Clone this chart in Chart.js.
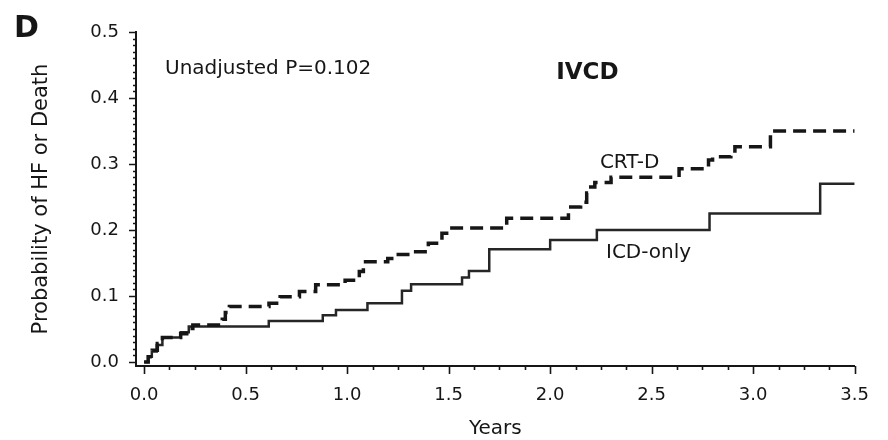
<!DOCTYPE html>
<html>
<head>
<meta charset="utf-8">
<title>IVCD – HF or Death</title>
<script src="https://cdn.jsdelivr.net/npm/chart.js@4/dist/chart.umd.min.js"></script>
<style>
  html, body { margin: 0; padding: 0; background: #ffffff; }
  #wrap { width: 888px; height: 440px; position: relative; }
</style>
</head>
<body>
<div id="wrap"><canvas id="km" width="888" height="440"></canvas></div>
<script>
// Kaplan-Meier cumulative probability of HF or death, IVCD subgroup
// Each pair (year, probability) marks the level reached at that event time.
const icdYears = [0, 0.02, 0.038, 0.062, 0.09, 0.18, 0.22, 0.614, 0.88, 0.945, 1.10, 1.27, 1.315, 1.566, 1.60, 1.70, 2.00, 2.23, 2.785, 3.33, 3.5];
const icdProb  = [0, 0.008, 0.016, 0.026, 0.037, 0.045, 0.054, 0.062, 0.071, 0.079, 0.089, 0.108, 0.118, 0.128, 0.138, 0.171, 0.185, 0.200, 0.225, 0.270, 0.270];

const crtYears = [0, 0.02, 0.04, 0.065, 0.09, 0.18, 0.21, 0.24, 0.385, 0.40, 0.42, 0.615, 0.67, 0.765, 0.845, 0.99, 1.06, 1.08, 1.20, 1.24, 1.32, 1.40, 1.467, 1.50, 1.786, 2.09, 2.15, 2.18, 2.20, 2.22, 2.30, 2.635, 2.78, 2.80, 2.89, 2.91, 3.085, 3.5];
const crtProb  = [0, 0.008, 0.018, 0.028, 0.037, 0.043, 0.051, 0.056, 0.065, 0.075, 0.084, 0.089, 0.099, 0.107, 0.117, 0.124, 0.137, 0.152, 0.157, 0.163, 0.167, 0.180, 0.195, 0.203, 0.218, 0.235, 0.242, 0.256, 0.265, 0.272, 0.280, 0.293, 0.306, 0.311, 0.316, 0.326, 0.350, 0.350];

// Axis tick labels
const xTickValues = [0, 0.5, 1.0, 1.5, 2.0, 2.5, 3.0, 3.5];
const yTickValues = [0, 0.1, 0.2, 0.3, 0.4, 0.5];

const toPoints = (xs, ys) => xs.map((x, i) => ({ x: x, y: ys[i] }));

const INK = '#161616';
const FONT = "'DejaVu Sans', Verdana, sans-serif";

// Major and minor tick marks drawn along both axes
const tickMarks = {
  id: 'tickMarks',
  afterDraw(chart) {
    const { ctx, scales: { x, y }, chartArea } = chart;
    ctx.save();
    ctx.strokeStyle = INK;
    ctx.lineWidth = 1.6;
    ctx.beginPath();
    for (let i = 0; i <= 28; i++) {
      const v = i * 0.125;
      const px = Math.round(x.getPixelForValue(v)) + 0.5;
      const len = (i % 4 === 0) ? 8 : 4;
      ctx.moveTo(px, chartArea.bottom);
      ctx.lineTo(px, chartArea.bottom + len);
    }
    for (let i = 0; i <= 50; i++) {
      const v = i * 0.01;
      const py = Math.round(y.getPixelForValue(v)) + 0.5;
      const len = (i % 10 === 0) ? 7 : 3;
      ctx.moveTo(chartArea.left, py);
      ctx.lineTo(chartArea.left - len, py);
    }
    ctx.stroke();
    ctx.restore();
  }
};

// Panel letter, p-value, subgroup name and curve labels
const annotations = {
  id: 'annotations',
  afterDraw(chart) {
    const { ctx, scales: { x, y } } = chart;
    ctx.save();
    ctx.fillStyle = INK;
    ctx.textBaseline = 'alphabetic';
    ctx.textAlign = 'left';

    ctx.font = "bold 30px " + FONT;
    ctx.fillText('D', 14, 37);

    ctx.font = "20px " + FONT;
    ctx.fillText('Unadjusted P=0.102', x.getPixelForValue(0.103), y.getPixelForValue(0.436));

    ctx.font = "bold 23px " + FONT;
    ctx.fillText('IVCD', x.getPixelForValue(2.03), y.getPixelForValue(0.429));

    ctx.font = "20px " + FONT;
    ctx.fillText('CRT-D', x.getPixelForValue(2.245), y.getPixelForValue(0.294));
    ctx.fillText('ICD-only', x.getPixelForValue(2.275), y.getPixelForValue(0.158));
    ctx.restore();
  }
};

new Chart(document.getElementById('km'), {
  type: 'line',
  data: {
    datasets: [
      {
        label: 'CRT-D',
        data: toPoints(crtYears, crtProb),
        borderColor: INK,
        borderWidth: 3.5,
        borderDash: [13, 7],
        stepped: 'before',
        pointRadius: 0,
        fill: false
      },
      {
        label: 'ICD-only',
        data: toPoints(icdYears, icdProb),
        borderColor: '#262626',
        borderWidth: 2.5,
        stepped: 'before',
        pointRadius: 0,
        fill: false
      }
    ]
  },
  options: {
    responsive: false,
    animation: false,
    events: [],
    layout: { padding: { left: 0, top: 32, right: 30, bottom: 0 } },
    plugins: { legend: { display: false }, tooltip: { enabled: false } },
    scales: {
      x: {
        type: 'linear',
        min: -0.04,
        max: 3.5,
        afterBuildTicks: (s) => { s.ticks = xTickValues.map(v => ({ value: v })); },
        afterFit: (s) => { s.height = 74; },
        grid: { display: false, drawTicks: false },
        border: { display: true, color: INK, width: 2 },
        ticks: {
          color: INK,
          font: { family: FONT, size: 18 },
          padding: 19,
          maxRotation: 0,
          autoSkip: false,
          callback: (v) => Number(v).toFixed(1)
        },
        title: {
          display: true,
          text: 'Years',
          color: INK,
          font: { family: FONT, size: 20, lineHeight: 1.1 },
          padding: { top: 0, bottom: 0 }
        }
      },
      y: {
        type: 'linear',
        min: -0.006,
        max: 0.5,
        afterBuildTicks: (s) => { s.ticks = yTickValues.map(v => ({ value: v })); },
        afterFit: (s) => { s.width = 136; },
        grid: { display: false, drawTicks: false },
        border: { display: true, color: INK, width: 2 },
        ticks: {
          color: INK,
          font: { family: FONT, size: 18 },
          padding: 17,
          autoSkip: false,
          callback: (v) => Number(v).toFixed(1)
        },
        title: {
          display: true,
          text: 'Probability of HF or Death',
          color: INK,
          font: { family: FONT, size: 21, lineHeight: 1.2 },
          padding: { top: 29, bottom: 0 }
        }
      }
    }
  },
  plugins: [tickMarks, annotations]
});
</script>
</body>
</html>
